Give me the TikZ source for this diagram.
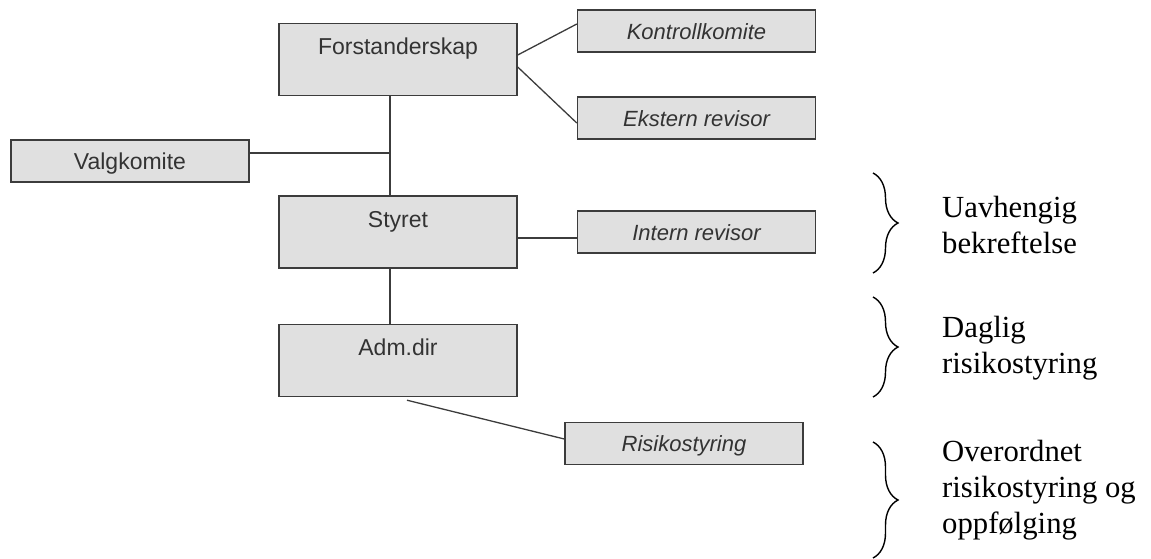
\documentclass[tikz,border=0pt]{standalone}
\usepackage{fontspec}
\setmainfont{Liberation Serif}
\newfontfamily\arialfont{Liberation Sans}
\usetikzlibrary{decorations.pathreplacing,calc}
\definecolor{boxfill}{HTML}{E0E0E0}
\definecolor{boxline}{HTML}{3C3C3C}
\definecolor{boxtext}{HTML}{333333}
\tikzset{
  bigbox/.style={draw=boxline, fill=boxfill, line width=1.4pt, minimum width=238pt,
    inner xsep=0pt, inner ysep=0pt, text height=31pt, text depth=41pt,
    font=\arialfont\fontsize{23}{27}\selectfont, text=boxtext},
  smallbox/.style={draw=boxline, fill=boxfill, line width=1.4pt, minimum width=238pt,
    inner xsep=0pt, inner ysep=0pt, text height=29pt, text depth=13pt,
    font=\arialfont\itshape\fontsize{22}{26}\selectfont, text=boxtext},
  plainbox/.style={smallbox, font=\arialfont\fontsize{23}{27}\selectfont},
  conn/.style={draw=boxline, line width=1.3pt},
  bracestyle/.style={decorate, decoration={brace, amplitude=25pt}, line width=1.4pt, black},
  rtext/.style={font=\fontsize{30.7}{36}\selectfont, align=left, inner sep=0pt, anchor=base west}
}
\begin{document}
\begin{tikzpicture}[x=1pt, y=-1pt]
\useasboundingbox (0,0) rectangle (1151,558);
% boxes
\node[bigbox] (forst) at (398,59.5) {Forstanderskap};
\node[bigbox] (styret) at (398,232) {Styret};
\node[bigbox] (adm) at (398,360.5) {Adm.dir};
\node[smallbox] (kontroll) at (696.5,31) {Kontrollkomite};
\node[smallbox] (ekstern) at (696.5,118) {Ekstern revisor};
\node[smallbox] (intern) at (696.5,232) {Intern revisor};
\node[smallbox] (risiko) at (684,443.5) {Risikostyring};
\node[plainbox] (valg) at (130,161) {Valgkomite};
% connectors
\draw[conn] ([yshift=4.5pt]forst.east) -- ([yshift=7pt]kontroll.west);
\draw[conn] ([yshift=-7.5pt]forst.east) -- ([yshift=-5pt]ekstern.west);
\coordinate (trunk) at ([xshift=-8pt]forst.south);
\draw[conn] (trunk) -- ([xshift=-8pt]styret.north);
\draw[conn] ([yshift=8pt]valg.east) coordinate (vj) -- (vj -| trunk);
\draw[conn] ([xshift=-8pt]styret.south) -- ([xshift=-8pt]adm.north);
\draw[conn] ([yshift=-6pt]styret.east) coordinate (ij) -- (ij -| intern.west);
\draw[conn] ([xshift=9pt,yshift=-3pt]adm.south) -- ([yshift=4.5pt]risiko.west);
% braces
\draw[bracestyle] (873,173) -- (873,273);
\draw[bracestyle] (873,297) -- (873,397);
\draw[bracestyle] (873,442) -- (873,558);
% side texts (base anchor = baseline of the last line)
\node[rtext] (t1) at (942,253) {Uavhengig\\bekreftelse};
\node[rtext] (t2) at (942,373) {Daglig\\risikostyring};
\node[rtext] (t3) at (942,533) {Overordnet\\risikostyring og\\oppfølging};
\end{tikzpicture}
\end{document}
